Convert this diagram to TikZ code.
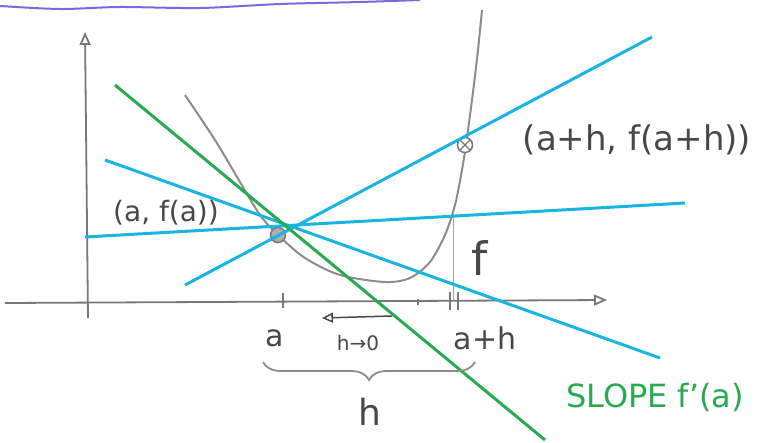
\documentclass[tikz,border=0pt]{standalone}
\usepackage{fontspec}
\setmainfont{DejaVu Sans}
\usepackage{xcolor}
\usetikzlibrary{arrows.meta, decorations.pathreplacing}

\definecolor{pencil}{RGB}{120,120,120}
\definecolor{secblue}{RGB}{25,180,225}
\definecolor{tangreen}{RGB}{40,170,80}
\definecolor{lilac}{RGB}{120,105,225}

\begin{document}
\begin{tikzpicture}[
        x=1pt, y=-1pt,
        axis/.style={draw=pencil, line width=1.8pt, -{Triangle[open, length=13pt, width=11pt]}},
        secant/.style={draw=secblue, line width=3pt},
        tangent/.style={draw=tangreen, line width=3pt},
        curve/.style={draw=pencil!85, line width=2pt},
        label/.style={text=pencil!60!black, font=\fontsize{28}{30}\selectfont, inner sep=1pt},
        dot/.style={circle, draw=pencil, line width=1.5pt, minimum size=15pt, inner sep=0pt}
    ]
    \useasboundingbox (0,0) rectangle (782,442);

    % Top rule
    \draw[lilac, line width=2pt] plot[smooth] coordinates {(0,6) (60,9) (120,7) (200,8) (280,4) (360,2) (420,0)};

    % Axes
    \coordinate (ybot) at (88,318);
    \coordinate (ytop) at (85,32);
    \coordinate (xleft) at (5,303);
    \coordinate (xright) at (607,300);
    \draw[axis] (ybot) -- (ytop);
    \draw[axis] (xleft) -- (xright);

    % Ticks
    \draw[pencil, line width=1.8pt] (283,293) -- (283,308);
    \draw[pencil, line width=1.8pt] (418,299) -- (418,305);
    \draw[pencil, line width=1.8pt] (450,292) -- (450,310);
    \draw[pencil, line width=1.8pt] (458,292) -- (458,310);

    % The function f
    \draw[curve] plot[smooth] coordinates {(185,95) (215,140) (240,182) (260,215) (278,235) (305,258) (340,275) (385,282) (410,278) (430,262) (445,235) (455,205) (462,170) (466,145) (472,100) (478,50) (482,10)};
    \draw[pencil!70, line width=0.8pt] (453,212) -- (453,300);

    % Points on f
    \node[dot, fill=pencil!60] (pa) at (278,235) {};
    \node[dot, fill=white] (pah) at (465,145) {};
    \draw[pencil, line width=1.2pt] (pah.north west) -- (pah.south east);
    \draw[pencil, line width=1.2pt] (pah.north east) -- (pah.south west);

    % Secant lines
    \coordinate (s1a) at (185,285);
    \coordinate (s1b) at (652,37);
    \coordinate (s2a) at (85,237);
    \coordinate (s2b) at (685,203);
    \coordinate (s3a) at (105,160);
    \coordinate (s3b) at (660,358);
    \draw[secant] (s1a) -- (s1b);
    \draw[secant] (s2a) -- (s2b);
    \draw[secant] (s3a) -- (s3b);

    % Tangent line
    \coordinate (ta) at (115,85);
    \coordinate (tb) at (545,440);
    \draw[tangent] (ta) -- (tb);

    % Labels
    \node[label] (lpa) at (166,213) {(a, f(a))};
    \node[label, font=\fontsize{34}{36}\selectfont] (lpah) at (637,140) {(a+h, f(a+h))};
    \node[label, font=\fontsize{46}{48}\selectfont] (lf) at (480,258) {f};
    \node[label, font=\fontsize{30}{32}\selectfont] (la) at (275,338) {a};
    \node[label, font=\fontsize{30}{32}\selectfont] (lah) at (485,338) {a+h};
    \node[label, font=\fontsize{20}{22}\selectfont] (lh0) at (358,343) {h→0};
    \coordinate (hfrom) at (392,316);
    \coordinate (hto) at (322,318);
    \draw[pencil!60!black, line width=1.5pt, -{Triangle[open, length=11pt, width=10pt]}] (hfrom) -- (hto);

    % Brace h
    \coordinate (bl) at (263,362);
    \coordinate (br) at (475,362);
    \draw[pencil!85, line width=1.8pt, decorate, decoration={brace, mirror, amplitude=18pt}] (bl) -- (br);
    \node[label, font=\fontsize{36}{38}\selectfont] (lh) at (370,412) {h};

    % Slope label
    \node[label, text=tangreen, font=\fontsize{32}{34}\selectfont] (lslope) at (655,397) {SLOPE f'(a)};

\end{tikzpicture}
\end{document}
